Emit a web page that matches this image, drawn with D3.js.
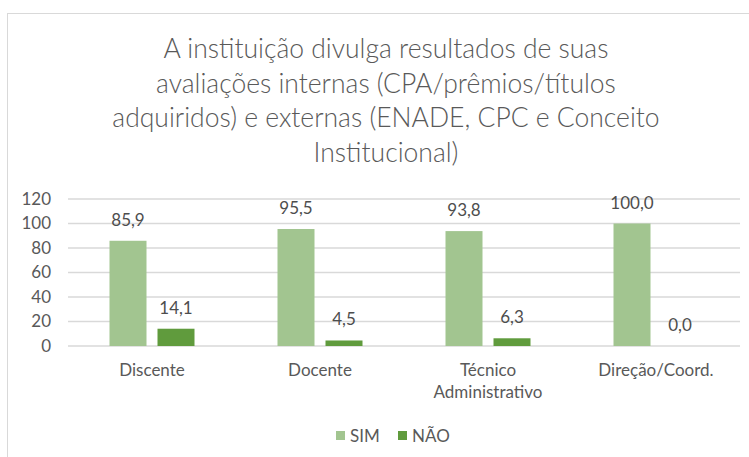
<!DOCTYPE html>
<html>
<head>
<meta charset="utf-8">
<script src="https://cdn.jsdelivr.net/npm/d3@7"></script>
<style>
  body { margin: 0; background: #fff; }
  svg { display: block; font-family: Lato, "Open Sans", sans-serif; }
</style>
</head>
<body>
<svg id="chart" width="749" height="457"></svg>
<script>
const categories = ["Discente", "Docente", "Técnico\nAdministrativo", "Direção/Coord."];
const seriesNames = ["SIM", "NÃO"];
const simValues = [85.9, 95.5, 93.8, 100.0];
const naoValues = [14.1, 4.5, 6.3, 0.0];
const yTicks = [0, 20, 40, 60, 80, 100, 120];
const titleLines = [
  "A instituição divulga resultados de suas",
  "avaliações internas (CPA/prêmios/títulos",
  "adquiridos) e externas (ENADE, CPC e Conceito",
  "Institucional)"
];
const colors = ["#A2C590", "#609B3D"];

const svg = d3.select("#chart");

// outer chart frame
svg.append("rect")
  .attr("x", 7.5).attr("y", 13.5)
  .attr("width", 760).attr("height", 470)
  .attr("fill", "#fff").attr("stroke", "#d9d9d9");

// title
const title = svg.append("text")
  .attr("text-anchor", "middle")
  .attr("fill", "#595959")
  .attr("font-size", 26.5)
  .attr("font-weight", 300);
titleLines.forEach((t, i) => {
  title.append("tspan").attr("x", 386).attr("y", 58 + i * 34.5).text(t);
});

const plot = { left: 68, right: 740, top: 199, bottom: 346 };

const x = d3.scaleBand().domain(d3.range(categories.length))
  .range([plot.left, plot.right]);
const y = d3.scaleLinear().domain([0, 120]).range([plot.bottom, plot.top]);

// gridlines
svg.append("g").selectAll("line").data(yTicks).join("line")
  .attr("x1", plot.left).attr("x2", plot.right)
  .attr("y1", d => y(d)).attr("y2", d => y(d))
  .attr("stroke", "#d9d9d9").attr("stroke-width", 1.3);

// y axis labels
const yAxis = svg.append("g")
  .attr("transform", `translate(${plot.left - 17},0)`)
  .call(d3.axisLeft(y).tickValues(yTicks).tickSize(0).tickPadding(0));
yAxis.select(".domain").remove();
yAxis.selectAll("text")
  .attr("font-family", "Lato, 'Open Sans', sans-serif")
  .attr("font-size", 17).attr("fill", "#595959");

const barW = 37, gap = 11;
const series = [simValues, naoValues];
const fmt = v => v.toFixed(1).replace(".", ",");

series.forEach((vals, s) => {
  const offset = s === 0 ? -(gap / 2 + barW) : gap / 2;
  const g = svg.append("g");
  g.selectAll("rect").data(vals).join("rect")
    .attr("x", (d, i) => x(i) + x.bandwidth() / 2 + offset)
    .attr("width", barW)
    .attr("y", d => y(d))
    .attr("height", d => y(0) - y(d))
    .attr("fill", colors[s]);
  g.selectAll("text").data(vals).join("text")
    .attr("x", (d, i) => x(i) + x.bandwidth() / 2 + offset + barW / 2)
    .attr("y", d => y(d) - 15)
    .attr("text-anchor", "middle")
    .attr("font-size", 17).attr("fill", "#4d4d4d")
    .text(d => fmt(d));
});

// category labels
const cat = svg.append("g");
categories.forEach((c, i) => {
  const t = cat.append("text")
    .attr("text-anchor", "middle")
    .attr("font-size", 17).attr("fill", "#595959");
  c.split("\n").forEach((line, j) => {
    t.append("tspan")
      .attr("x", x(i) + x.bandwidth() / 2)
      .attr("y", 376 + j * 22)
      .text(line);
  });
});

// legend
const legendX = [336, 398];
seriesNames.forEach((n, i) => {
  svg.append("rect")
    .attr("x", legendX[i]).attr("y", 431)
    .attr("width", 9).attr("height", 9)
    .attr("fill", colors[i]);
  svg.append("text")
    .attr("x", legendX[i] + 14).attr("y", 442)
    .attr("font-size", 17).attr("fill", "#595959")
    .text(n);
});
</script>
</body>
</html>
